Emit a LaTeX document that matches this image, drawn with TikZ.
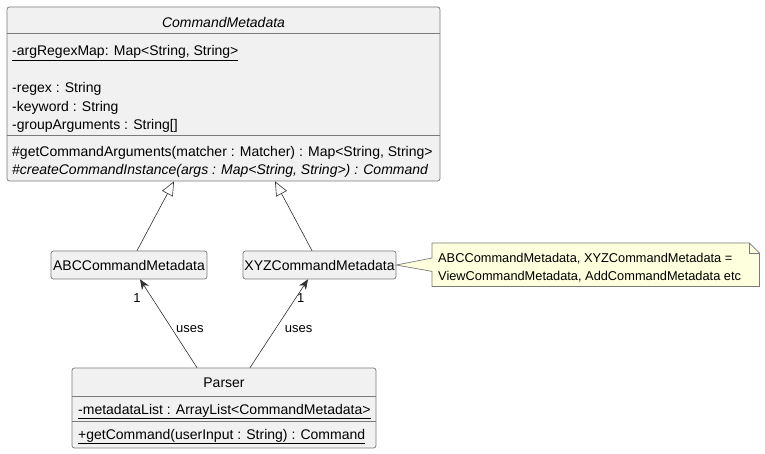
\documentclass[tikz,border=0pt]{standalone}
\usepackage{fontspec}
\setmainfont{Liberation Sans}
\usetikzlibrary{arrows.meta}
\definecolor{classfill}{HTML}{F1F1F1}
\definecolor{classline}{HTML}{7A7A7A}
\definecolor{arrowline}{HTML}{303030}
\definecolor{notefill}{HTML}{FEFFDD}

\begin{document}
\begin{tikzpicture}[x=1pt, y=-1pt]

\tikzstyle{class}=[draw=classline, fill=classfill, rounded corners=2.5pt, inner sep=0pt, line width=0.7pt, font=\fontsize{14}{16}\selectfont]
\tikzstyle{member}=[anchor=base west, inner sep=0pt, font=\fontsize{14}{16}\selectfont]
\tikzstyle{title}=[anchor=base, inner sep=0pt, font=\fontsize{14}{16}\selectfont]
\tikzstyle{notetext}=[anchor=base west, inner sep=0pt, font=\fontsize{12.8}{15}\selectfont]
\tikzstyle{sep}=[draw=classline, line width=0.7pt]
\tikzstyle{extends}=[-{Triangle[open, length=14pt, width=12pt]}, draw=arrowline, line width=0.6pt]
\tikzstyle{uses}=[-{Stealth[length=10pt, width=8pt, inset=3pt]}, draw=arrowline, line width=0.6pt]
\tikzstyle{label}=[font=\fontsize{13}{15}\selectfont, inner sep=4pt]

\useasboundingbox (0,0) rectangle (765,454);

% abstract base class
\node[class, minimum width=433pt, minimum height=174pt] (cm) at (223.5,94) {};
\draw[sep] ([yshift=-27pt]cm.north west) -- ([yshift=-27pt]cm.north east);
\draw[sep] ([yshift=-129pt]cm.north west) -- ([yshift=-129pt]cm.north east);
\node[title, font=\fontsize{14}{16}\selectfont\itshape] (cmname) at (223.5,27.5) {CommandMetadata};
\node[member] (argmap) at (12,55.5) {\underline{-argRegexMap: Map<String, String>}};
\node[member] (regex) at (12,93) {-regex : String};
\node[member] (keyword) at (12,111.5) {-keyword : String};
\node[member] (groupargs) at (12,130) {-groupArguments : String[]};
\node[member] (getargs) at (12,157) {\#getCommandArguments(matcher : Matcher) : Map<String, String>};
\node[member, font=\fontsize{14}{16}\selectfont\itshape] (createinst) at (12,175) {\#createCommandInstance(args : Map<String, String>) : Command};

% subclasses
\node[class, minimum width=156pt, minimum height=28pt] (abc) at (129,265) {ABCCommandMetadata};
\node[class, minimum width=153pt, minimum height=28pt] (xyz) at (319.5,265) {XYZCommandMetadata};

% parser
\node[class, minimum width=304pt, minimum height=80pt] (parser) at (224,408) {};
\draw[sep] ([yshift=-29pt]parser.north west) -- ([yshift=-29pt]parser.north east);
\draw[sep] ([yshift=-54pt]parser.north west) -- ([yshift=-54pt]parser.north east);
\node[title] (parsername) at (224,387) {Parser};
\node[member] (metalist) at (78,414) {\underline{-metadataList : ArrayList<CommandMetadata>}};
\node[member] (getcmd) at (78,439) {\underline{+getCommand(userInput : String) : Command}};

% note
\node[minimum width=327pt, minimum height=43pt, anchor=north west, inner sep=0pt] (note) at (432,243) {};
\filldraw[draw=classline, fill=notefill, line width=0.7pt] (note.north west) -- ([xshift=-10pt]note.north east) -- ([yshift=-10pt]note.north east) -- (note.south east) -- (note.south west) -- ([yshift=15pt]note.south west) -- (xyz.east) -- ([yshift=-15pt]note.north west) -- cycle;
\draw[draw=classline, line width=0.7pt] ([xshift=-10pt]note.north east) -- ([xshift=-10pt, yshift=-10pt]note.north east) -- ([yshift=-10pt]note.north east);
\node[notetext] (noteline1) at (438,262) {ABCCommandMetadata, XYZCommandMetadata =};
\node[notetext] (noteline2) at (438,280) {ViewCommandMetadata, AddCommandMetadata etc};

\draw[extends] ([xshift=8pt]abc.north) to ([xshift=-49.5pt]cm.south);
\draw[extends] ([xshift=-7.5pt]xyz.north) to ([xshift=51.5pt]cm.south);
\draw[uses] ([xshift=-27pt]parser.north) to node[label, pos=.44, right] {uses} node[label, pos=.79, left, xshift=-7pt] {1} ([xshift=11pt]abc.south);
\draw[uses] ([xshift=26pt]parser.north) to node[label, pos=.44, right, xshift=5pt] {uses} node[label, pos=.79, right, xshift=-3pt] {1} ([xshift=-11.5pt]xyz.south);

\end{tikzpicture}
\end{document}
